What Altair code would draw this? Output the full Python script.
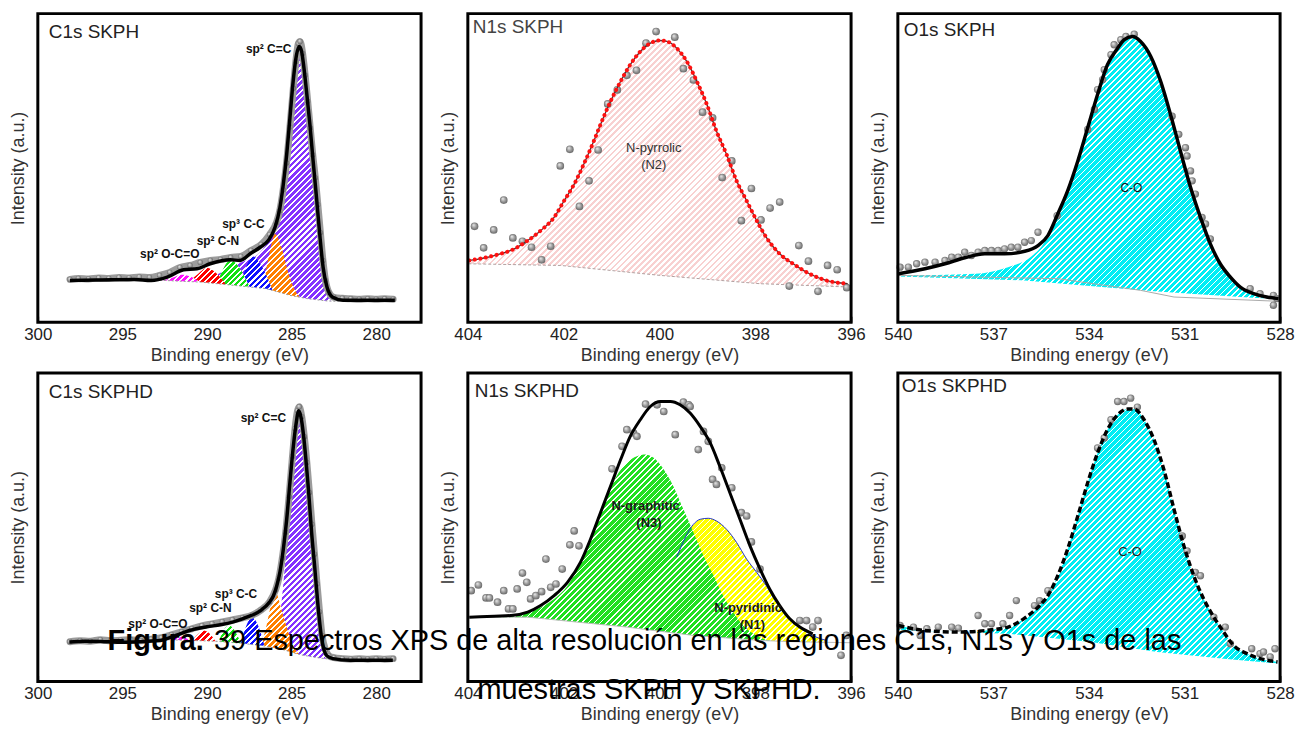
import math
import altair as alt
import pandas as pd

FONT = "Liberation Sans"
H = 310

# ---------------- axis tick values ----------------
C1S_TICKS = [300, 297.5, 295, 292.5, 290, 287.5, 285, 282.5, 280]
N1S_TICKS = [404, 403, 402, 401, 400, 399, 398, 397, 396]
O1S_TICKS = [540, 538.5, 537, 535.5, 534, 532.5, 531, 529.5, 528]

# ================= C1s SKPH =================
C1S_A_FIT_E = [298.1, 296.3, 294.3, 293.3, 292.35, 291.38, 290.59, 289.81, 288.63, 288.04, 287.45, 286.86,
               286.38, 285.98, 285.69, 285.49, 285.29, 285.10, 284.91, 284.71, 284.55, 284.41, 284.32, 284.12,
               283.92, 283.73, 283.53, 283.34, 283.14, 282.91, 282.59, 281.96, 280.6, 278.9]
C1S_A_FIT_I = [42, 42.5, 43, 42, 45.3, 52.7, 53.7, 58.7, 62.7, 62, 68.7, 75.3,
               82, 95.3, 115.3, 138.7, 168.7, 205.3, 242, 268.7, 277, 272, 262, 232,
               198.7, 162, 125.3, 88.7, 55.3, 35.3, 25.3, 22, 22, 22]
C1S_A_DATA_E = [298.1, 297.6, 297.0, 296.4, 295.8, 295.2, 294.6, 294.0, 293.4, 292.8, 292.2, 291.6, 291.0,
                290.4, 289.8, 289.2, 288.6, 288.0, 287.4, 286.8, 286.3, 285.9, 285.7, 285.5, 285.3, 285.1,
                284.9, 284.75, 284.6, 284.5, 284.35, 284.2, 284.05, 283.9, 283.75, 283.6, 283.45, 283.3,
                283.15, 283.0, 282.8, 282.5, 282.0, 281.5, 281.0, 280.5, 280.0, 279.5, 279.0]
C1S_A_DATA_I = [43, 44, 43.5, 44.5, 44, 45, 44.5, 45.5, 45, 47, 50, 55, 57,
                60, 62, 63, 65, 66, 72, 78, 88, 100, 112, 133, 160, 196,
                235, 262, 280, 282, 270, 248, 222, 195, 168, 145, 118, 90,
                62, 42, 30, 25, 24, 23.5, 23, 23.5, 23, 23.5, 23]
C1S_A_BASE_E = [298.2, 292.6, 290.4, 288.4, 286.5, 285.1, 284.1, 283.0, 282.5, 278.8]
C1S_A_BASE_I = [42, 42, 40.3, 37, 33.7, 27, 23.7, 21.5, 21, 21]
C1S_A_MAG_E = [292.6, 292.0, 291.5, 291.0, 290.4]
C1S_A_MAG_I = [42, 45, 47.7, 46, 40.3]
C1S_A_RED_E = [291.0, 290.5, 290.0, 289.5, 288.9]
C1S_A_RED_I = [41.5, 49, 54.7, 50, 38.5]
C1S_A_GRN_E = [289.4, 289.0, 288.6, 288.1, 287.5]
C1S_A_GRN_I = [39.5, 55, 62.7, 55, 36]
C1S_A_BLU_E = [288.0, 287.7, 287.26, 286.8, 286.1]
C1S_A_BLU_I = [37, 55, 66, 57, 31]
C1S_A_ORG_E = [286.7, 286.3, 285.98, 285.6, 285.2, 284.8, 284.5]
C1S_A_ORG_I = [34, 70, 88.7, 75, 50, 32, 25]
C1S_A_PUR_E = [290.5, 289.4, 288.0, 287.0, 286.4, 286.0, 285.7, 285.5, 285.3, 285.1, 284.9, 284.7,
               284.55, 284.4, 284.2, 284.0, 283.8, 283.6, 283.4, 283.2, 283.0, 282.8, 282.6]
C1S_A_PUR_I = [40.3, 48, 60, 68, 80, 92, 110, 132, 162, 198, 236, 264,
               274, 268, 243, 208, 172, 135, 98, 63, 38, 24, 20.5]
C1S_A_LBL_T = ["sp² C=C", "sp³ C-C", "sp² C-N", "sp² O-C=O"]
C1S_A_LBL_E = [286.36, 287.85, 289.36, 292.2]
C1S_A_LBL_I = [274.7, 98.7, 81.3, 68.7]

# ================= C1s SKPHD =================
C1S_B_FIT_E = [298.14, 297.2, 296.27, 295.3, 294.31, 293.5, 292.75, 291.8, 291.0, 290.0, 289.2, 288.43,
               287.65, 286.86, 286.3, 286.08, 285.88, 285.69, 285.49, 285.29, 285.1, 284.9, 284.71, 284.6,
               284.45, 284.3, 284.15, 284.0, 283.82, 283.63, 283.44, 283.24, 282.94, 282.55, 281.57,
               280.59, 279.02]
C1S_B_FIT_I = [39.7, 40.5, 40.3, 39.5, 39.7, 40.5, 41.3, 46.5, 51.5, 55, 57, 60,
               64.7, 71, 80, 86, 96, 110, 133, 163, 200, 236, 262, 272,
               266, 248, 222, 192, 150, 114, 76, 45, 26.3, 23, 21.3,
               21.3, 21.3]
C1S_B_DATA_E = [298.1, 297.5, 296.9, 296.3, 295.7, 295.1, 294.5, 293.9, 293.3, 292.7, 292.1, 291.5, 290.9,
                290.3, 289.7, 289.1, 288.5, 287.9, 287.3, 286.8, 286.3, 285.95, 285.75, 285.55, 285.35,
                285.15, 284.95, 284.8, 284.65, 284.55, 284.4, 284.25, 284.1, 283.95, 283.8, 283.65, 283.5,
                283.35, 283.2, 283.0, 282.8, 282.5, 282.0, 281.5, 281.0, 280.5, 280.0, 279.5, 279.0]
C1S_B_DATA_I = [40, 41, 40.5, 42, 41, 41.5, 42, 41, 42.5, 44, 47, 50, 53,
                56, 58, 60, 62, 64, 67, 72, 80, 92, 104, 124, 150,
                186, 226, 254, 272, 276, 266, 246, 220, 190, 158, 128, 98,
                70, 46, 32, 26, 24, 23, 22.5, 23, 22.5, 23, 22.5, 23]
C1S_B_BASE_E = [298.2, 292.2, 291.0, 289.5, 288.0, 286.7, 285.5, 284.5, 283.5, 282.75, 278.9]
C1S_B_BASE_I = [40, 42, 41.3, 40.5, 38.5, 36, 32, 27, 24, 22.5, 21.3]
C1S_B_MAG_E = [292.2, 291.9, 291.6, 291.3, 291.0]
C1S_B_MAG_I = [42, 44, 45.5, 44, 41.2]
C1S_B_RED_E = [290.9, 290.5, 290.2, 289.9, 289.5]
C1S_B_RED_I = [41.2, 48, 51.3, 49, 40.5]
C1S_B_GRN_E = [289.3, 289.0, 288.7, 288.4, 288.0]
C1S_B_GRN_I = [40.2, 52, 56.3, 52, 38.5]
C1S_B_BLU_E = [288.0, 287.7, 287.35, 287.0, 286.6]
C1S_B_BLU_I = [38.5, 55, 64.7, 57, 35.5]
C1S_B_ORG_E = [286.8, 286.5, 286.2, 285.92, 285.6, 285.3, 285.0, 284.6, 284.3]
C1S_B_ORG_I = [36, 55, 78, 88.7, 72, 55, 40, 28, 26]
C1S_B_PUR_E = [286.4, 286.1, 285.88, 285.65, 285.49, 285.29, 285.10, 284.91, 284.75, 284.62, 284.51,
               284.32, 284.12, 283.92, 283.73, 283.53, 283.34, 283.14, 282.94, 282.75]
C1S_B_PUR_I = [35, 40, 50, 71, 98, 138, 178, 221, 254, 270, 266,
               238, 198, 161, 124, 85, 51, 30, 23, 22.5]
C1S_B_LBL_T = ["sp² C=C", "sp³ C-C", "sp² C-N", "sp² O-C=O"]
C1S_B_LBL_E = [286.67, 288.29, 289.8, 292.9]
C1S_B_LBL_I = [264.7, 88, 73.7, 58]

# ================= N1s SKPH =================
N1S_A_FIT_E = [403.97, 403.45, 403.03, 402.75, 402.48, 402.20, 401.99, 401.78, 401.58, 401.37, 401.23,
               401.02, 400.81, 400.61, 400.40, 400.19, 400.00, 399.84, 399.64, 399.43, 399.22, 399.01,
               398.81, 398.60, 398.39, 398.18, 397.97, 397.77, 397.49, 397.21, 396.87, 396.52, 396.07]
N1S_A_FIT_I = [62, 67, 73.7, 82, 92, 105.3, 122, 138.7, 158.7, 182, 198.7,
               222, 242, 258.7, 272, 280.3, 283, 282, 275.3, 262, 242, 218.7,
               192, 168.7, 142, 122, 102, 85.3, 68.7, 58.7, 48.7, 42, 38.7]
N1S_A_DATA_E = [403.86, 403.67, 403.46, 403.25, 403.06, 402.86, 402.67, 402.46, 402.27, 402.07, 401.87,
                401.67, 401.47, 401.28, 401.08, 400.88, 400.68, 400.48, 400.28, 400.07, 399.68, 399.50,
                399.29, 399.10, 398.89, 398.69, 398.49, 398.29, 398.08, 397.88, 397.69, 397.49, 397.29,
                397.09, 396.89, 396.69, 396.49, 396.29, 396.09]
N1S_A_DATA_I = [96.3, 74.7, 92.7, 122.7, 84.7, 81.3, 75.3, 62.7, 76.3, 157, 173.7,
                116.3, 142, 173, 219.3, 233.3, 248, 253, 280.3, 292, 286.3, 254.7,
                243.3, 211, 205.3, 145.3, 162, 102, 134.3, 102.7, 114.7, 120.7, 36.3,
                77, 61.3, 31, 57, 52.7, 34.7]
N1S_A_BASE_E = [403.99, 402.06, 399.98, 397.91, 396.01]
N1S_A_BASE_I = [58.7, 57, 47, 38.7, 35.3]
N1S_A_LBL_T = ["N-pyrrolic", "(N2)"]
N1S_A_LBL_E = [400.12, 400.12]
N1S_A_LBL_I = [174.7, 157.7]

# ================= N1s SKPHD =================
N1S_B_FIT_E = [403.97, 403.45, 403.10, 402.75, 402.48, 402.20, 401.92, 401.65, 401.44, 401.23, 401.02,
               400.81, 400.61, 400.40, 400.19, 399.98, 399.77, 399.57, 399.36, 399.15, 398.94, 398.74,
               398.53, 398.32, 398.11, 397.90, 397.70, 397.49, 397.28, 397.07, 396.80]
N1S_B_FIT_I = [64.7, 65.7, 66.3, 69.7, 76.3, 86.3, 99.7, 119.7, 143, 169.7, 196.3,
               223, 246.3, 263, 276.3, 281.3, 281.3, 278, 269.7, 256.3, 239.7, 216.3,
               189.7, 163, 136.3, 113, 93, 76.3, 63, 54.7, 48]
N1S_B_DATA_E = [403.93, 403.78, 403.62, 403.55, 403.38, 403.25, 403.15, 403.06, 402.97, 402.86, 402.77,
                402.69, 402.58, 402.46, 402.37, 402.27, 402.16, 402.03, 401.87, 401.78, 401.68, 400.99,
                400.78, 400.68, 400.54, 400.47, 400.29, 400.05, 399.91, 399.67, 399.50, 399.39, 399.36,
                399.19, 399.08, 398.98, 398.89, 398.81, 398.70, 398.49, 398.29, 398.18, 398.08, 397.90,
                397.07, 396.93, 396.80, 396.69, 396.21, 396.10]
N1S_B_DATA_I = [91.3, 97, 84, 84, 79.7, 91.3, 73, 73, 93, 109, 99.7,
                83, 86.3, 90.3, 123, 94.7, 98, 113, 137.3, 151.3, 136.3, 213.7,
                236.3, 253, 249.7, 246.3, 278.7, 278, 271.3, 248, 280.7, 278, 276.3,
                233, 251.3, 241.3, 203, 198, 214.7, 194.7, 169.7, 166.3, 140.3, 113,
                61.3, 61.3, 54.7, 61.3, 26.3, 46.3]
N1S_B_BASE_E = [403.99, 402.75, 400.68, 399.29, 397.90, 397.2, 396.01]
N1S_B_BASE_I = [64.7, 64.7, 54.7, 46.3, 41.3, 40, 39]
N1S_B_GRN_E = [403.93, 403.10, 402.55, 402.20, 401.92, 401.65, 401.37, 401.16, 400.95, 400.68, 400.47,
               400.29, 400.12, 399.91, 399.71, 399.50, 399.29, 399.08, 398.87, 398.67, 398.46, 398.25,
               398.04, 397.84, 397.49]
N1S_B_GRN_I = [63.7, 65.7, 73, 83, 96.3, 119.7, 151.3, 176.3, 201.3, 219.7, 226.3,
               228, 224.7, 213, 196.3, 173, 149.7, 126.3, 106.3, 86.3, 69.7, 56.3,
               48, 43, 39.7]
N1S_B_YEL_E = [400.4, 399.98, 399.64, 399.29, 399.15, 398.98, 398.81, 398.60, 398.39, 398.18, 397.97,
               397.77, 397.56, 397.35, 397.14, 396.93, 396.73, 396.52]
N1S_B_YEL_I = [55, 85, 125, 158, 163, 164, 161.3, 153, 139.7, 123, 109.7,
               96.3, 79.7, 66.3, 56.3, 49.7, 44.7, 41.3]
N1S_B_LBL_T = ["N-graphitic", "(N3)", "N-pyridinic", "(N1)"]
N1S_B_LBL_E = [400.29, 400.22, 398.15, 398.06]
N1S_B_LBL_I = [176.3, 159.7, 73.7, 56.3]

# ================= O1s SKPH =================
O1S_A_FIT_E = [539.98, 539.15, 538.52, 537.90, 537.27, 536.65, 536.02, 535.60, 535.29, 534.98, 534.67,
               534.35, 534.04, 533.73, 533.42, 533.10, 532.90, 532.64, 532.38, 532.06, 531.75, 531.44,
               531.13, 530.81, 530.50, 530.19, 529.88, 529.56, 529.25, 528.83, 528.42, 528.05]
O1S_A_FIT_I = [48.7, 53.7, 58.7, 64.7, 68.7, 68.7, 71.3, 77, 87, 108.7, 132,
               162, 195.3, 228.7, 258.7, 275.3, 283.7, 287, 282, 267, 242, 208.7,
               172, 135.3, 105.3, 78.7, 58.7, 45.3, 35.3, 28.7, 25.3, 23.7]
O1S_A_CO_E = [539.98, 537.58, 536.54, 535.81, 535.40, 535.29, 534.98, 534.67, 534.35, 534.04, 533.73,
              533.42, 533.10, 532.90, 532.64, 532.38, 532.06, 531.75, 531.44, 531.13, 530.81, 530.50,
              530.19, 529.88, 529.56, 529.25, 528.83, 528.42, 528.05]
O1S_A_CO_I = [47, 48.7, 55.3, 66, 80.3, 87, 108.7, 132, 162, 195.3, 228.7,
              258.7, 275.3, 283.7, 287, 282, 267, 242, 208.7, 172, 135.3, 105.3,
              78.7, 58.7, 45.3, 35.3, 28.7, 25.3, 23.7]
O1S_A_DATA_E = [539.93, 539.67, 539.41, 539.15, 538.83, 538.52, 538.31, 538.10, 537.90, 537.69, 537.48,
                537.27, 537.06, 536.85, 536.65, 536.44, 536.23, 536.02, 535.81, 535.60, 535.0, 534.04,
                533.83, 533.73, 533.57, 533.52, 533.31, 533.21, 533.0, 532.84, 532.58, 531.39, 531.18,
                530.97, 530.92, 530.81, 530.76, 530.66, 530.45, 530.34, 530.19, 528.94, 528.63, 528.21,
                528.21, 528.10]
O1S_A_DATA_I = [55.3, 55.3, 58.7, 60.3, 60.3, 62, 65.3, 65.3, 70.3, 67, 70.3,
                72, 72, 72, 73.7, 75.3, 75.3, 80.3, 82, 90.3, 107, 193.7,
                213.7, 233.7, 243.7, 253.7, 268.7, 278.7, 283.7, 287, 289.3, 207, 188.7,
                175.3, 167, 152, 142, 128.7, 105.3, 98.7, 83.7, 33.7, 28.7, 27,
                17, 23.7]
O1S_A_MASK_E = [540.0, 536.02, 532.38, 530.81, 528.73, 528.0]
O1S_A_MASK_I = [46, 42, 32, 28.7, 24.3, 23]
O1S_A_BASE_E = [539.98, 534.98, 532.38, 531.33, 528.05]
O1S_A_BASE_I = [47, 43.7, 32, 25.3, 21]
O1S_A_LBL_T = ["C-O"]
O1S_A_LBL_E = [532.67]
O1S_A_LBL_I = [134.3]

# ================= O1s SKPHD =================
O1S_B_FIT_E = [539.98, 539.15, 538.10, 537.06, 536.54, 536.02, 535.60, 535.29, 534.98, 534.67, 534.35,
               534.04, 533.73, 533.42, 533.10, 532.79, 532.58, 532.27, 531.96, 531.65, 531.33, 531.02,
               530.71, 530.40, 530.08, 529.77, 529.46, 529.04, 528.63, 528.08]
O1S_B_FIT_I = [56.3, 51.3, 49.7, 52, 54.7, 63.7, 74.7, 86.3, 106.3, 133, 166.3,
               199.7, 229.7, 253, 268, 273.7, 273.7, 263, 243, 213, 173, 136.3,
               106.3, 83, 64.7, 49.7, 36.3, 28, 23, 19.7]
O1S_B_DATA_E = [539.93, 539.51, 539.30, 539.09, 538.73, 538.31, 538.10, 537.48, 537.27, 537.06, 536.70,
                536.49, 536.28, 535.71, 535.55, 535.29, 533.73, 533.52, 533.31, 533.10, 532.90, 532.69,
                532.48, 531.07, 530.92, 530.66, 530.50, 530.08, 529.72, 529.56, 528.89, 528.63, 528.52,
                528.31, 528.16]
O1S_B_DATA_I = [56.3, 54.7, 46.3, 53, 54.7, 54.7, 53.7, 66.3, 58, 58, 58,
                66.3, 81.3, 76.3, 81.3, 91.3, 234.7, 244.7, 263, 281.3, 281.3, 284.7,
                275.7, 146.3, 131.3, 109.7, 106.3, 64.7, 54.7, 38, 33, 28, 29.7,
                24.7, 33]
O1S_B_BASE_E = [540.0, 536.54, 533.94, 531.85, 529.77, 528.0]
O1S_B_BASE_I = [51.7, 48, 39.7, 29.7, 23, 18]
O1S_B_LBL_T = ["C-O"]
O1S_B_LBL_E = [532.71]
O1S_B_LBL_I = [129.7]

# ================= caption =================
CAPTION_BOLD = "Figura."
CAPTION_1 = "39 Espectros XPS de alta resolución en las regiones C1s, N1s y O1s de las"
CAPTION_2 = "muestras SKPH y SKPHD."

# ---------------------------------------------------------------
W1, W2, W3 = 385, 385, 384
PPE_C, PPE_N, PPE_O = W1 / 22.65, W2 / 8.0, W3 / 12.0   # pixels per eV in each panel

SPHERE = alt.RadialGradient(
    gradient="radial",
    stops=[alt.GradientStop(color="#f2f2f2", offset=0),
           alt.GradientStop(color="#a3a3a3", offset=0.5),
           alt.GradientStop(color="#5e5e5e", offset=1)],
    x1=0.35, y1=0.3, r1=0, x2=0.5, y2=0.5, r2=0.55)


def hatch(color, e, i, ppe, frac, period=4.3):
    """Diagonal (////) hatch fill built as a striped linear gradient over the mark's box."""
    w = max((max(e) - min(e)) * ppe, 1.0)
    h = max(max(i), 1.0)
    n = max(1, int(round((w + h) / (period * math.sqrt(2)))))
    stops = []
    for k in range(n):
        a, b, c = k / n, (k + frac) / n, (k + 1) / n
        stops += [alt.GradientStop(color=color, offset=round(a, 6)),
                  alt.GradientStop(color=color, offset=round(b, 6)),
                  alt.GradientStop(color="#ffffff", offset=round(b, 6)),
                  alt.GradientStop(color="#ffffff", offset=round(c, 6))]
    s = w * (w + h) / (w * w + h * h)
    return alt.LinearGradient(gradient="linear", stops=stops, x1=0, y1=0, x2=s, y2=s * h / w)


YENC = alt.Y("I:Q", scale=alt.Scale(domain=[0, H], nice=False, zero=False),
             axis=alt.Axis(title="Intensity (a.u.)", labels=False, ticks=False, domain=False, grid=False,
                           titlePadding=10, titleFontSize=18, titleColor="#333333",
                           titleFontWeight="normal", titleFont=FONT))


def xenc(dom, vals, mod):
    return alt.X("E:Q", scale=alt.Scale(domain=dom, reverse=True, nice=False, zero=False),
                 axis=alt.Axis(values=vals, labelExpr=f"datum.value % {mod} == 0 ? datum.label : ''",
                               title="Binding energy (eV)", grid=False, domain=False,
                               tickSize=6, tickWidth=1.6, tickColor="black", offset=-6,
                               labelFontSize=17, labelColor="#222222", labelPadding=4, labelFlush=False,
                               labelFont=FONT, titleFont=FONT, titleFontSize=18, titleColor="#333333",
                               titleFontWeight="normal", titlePadding=4))


def frame_df(e, i):
    return pd.DataFrame({"E": e, "I": i})


def area(X, e, i, color, op=1.0, interp="monotone"):
    return alt.Chart(frame_df(e, i)).mark_area(color=color, opacity=op, interpolate=interp).encode(x=X, y=YENC)


def line(X, e, i, color, width, interp="monotone", dash=None, cap="butt"):
    kw = dict(color=color, strokeWidth=width, interpolate=interp, strokeCap=cap)
    if dash:
        kw["strokeDash"] = dash
    return alt.Chart(frame_df(e, i)).mark_line(**kw).encode(x=X, y=YENC)


def points(X, e, i, size):
    return alt.Chart(frame_df(e, i)).mark_circle(fill=SPHERE, size=size, opacity=1).encode(x=X, y=YENC)


def labels(X, t, e, i, size, weight="bold", color="#111111"):
    d = pd.DataFrame({"E": e, "I": i, "T": t})
    return alt.Chart(d).mark_text(fontSize=size, fontWeight=weight, font=FONT, color=color).encode(
        x=X, y=YENC, text="T:N")


def ptitle(text, dx, dy, color="#222222"):
    return alt.Chart(alt.Data(values=[{}])).mark_text(
        text=text, align="left", baseline="middle", fontSize=19, font=FONT, color=color).encode(
        x=alt.value(dx), y=alt.value(dy))


def frame(w):
    return alt.Chart(alt.Data(values=[{}])).mark_rect(filled=False, color="black", strokeWidth=3).encode(
        x=alt.value(0), x2=alt.value(w), y=alt.value(0), y2=alt.value(H))


XC = xenc([277.35, 300], C1S_TICKS, 5)
XN = xenc([396, 404], N1S_TICKS, 2)
XO = xenc([528, 540], O1S_TICKS, 3)

PURPLE, ORANGE, BLUE, GREEN, RED, MAGENTA = "#8433ff", "#ff8000", "#1010ff", "#10e010", "#ff0000", "#ff10ff"
CYAN, YELLOW, NGREEN, PINK = "#00eef4", "#ffff00", "#22e022", "#f5bdbd"


def c1s_panel(fe, fi, de, di, be, bi, comps, lt, le, li, title, tdx, tdy):
    layers = [area(XC, e, i, hatch(c, e, i, PPE_C, 0.6)) for (e, i, c) in comps]
    layers += [
        area(XC, be, bi, "white", 1, "linear"),
        line(XC, be, bi, "#999999", 1, "linear", dash=[2, 2]),
        line(XC, de, di, "#9c9c9c", 7, cap="round"),
        points(XC, de, di, 30),
        line(XC, fe, fi, "black", 3.5),
        labels(XC, lt, le, li, 12),
        ptitle(title, tdx, tdy),
        frame(W1),
    ]
    return alt.layer(*layers).properties(width=W1, height=H)


p1 = c1s_panel(C1S_A_FIT_E, C1S_A_FIT_I, C1S_A_DATA_E, C1S_A_DATA_I, C1S_A_BASE_E, C1S_A_BASE_I,
               [(C1S_A_PUR_E, C1S_A_PUR_I, PURPLE), (C1S_A_ORG_E, C1S_A_ORG_I, ORANGE),
                (C1S_A_BLU_E, C1S_A_BLU_I, BLUE), (C1S_A_GRN_E, C1S_A_GRN_I, GREEN),
                (C1S_A_RED_E, C1S_A_RED_I, RED), (C1S_A_MAG_E, C1S_A_MAG_I, MAGENTA)],
               C1S_A_LBL_T, C1S_A_LBL_E, C1S_A_LBL_I, "C1s SKPH", 11, 18)

p4 = c1s_panel(C1S_B_FIT_E, C1S_B_FIT_I, C1S_B_DATA_E, C1S_B_DATA_I, C1S_B_BASE_E, C1S_B_BASE_I,
               [(C1S_B_PUR_E, C1S_B_PUR_I, PURPLE), (C1S_B_ORG_E, C1S_B_ORG_I, ORANGE),
                (C1S_B_BLU_E, C1S_B_BLU_I, BLUE), (C1S_B_GRN_E, C1S_B_GRN_I, GREEN),
                (C1S_B_RED_E, C1S_B_RED_I, RED), (C1S_B_MAG_E, C1S_B_MAG_I, MAGENTA)],
               C1S_B_LBL_T, C1S_B_LBL_E, C1S_B_LBL_I, "C1s SKPHD", 11, 19)

p2 = alt.layer(
    area(XN, N1S_A_FIT_E, N1S_A_FIT_I, hatch(PINK, N1S_A_FIT_E, N1S_A_FIT_I, PPE_N, 0.45), 0.7),
    area(XN, N1S_A_BASE_E, N1S_A_BASE_I, "white", 1, "linear"),
    line(XN, N1S_A_BASE_E, N1S_A_BASE_I, "#b0a0a0", 1, "linear", dash=[3, 2]),
    points(XN, N1S_A_DATA_E, N1S_A_DATA_I, 60),
    line(XN, N1S_A_FIT_E, N1S_A_FIT_I, "#5a2a2a", 1.3),
    line(XN, N1S_A_FIT_E, N1S_A_FIT_I, "#ff1010", 4, dash=[0.1, 5.5], cap="round"),
    labels(XN, N1S_A_LBL_T, N1S_A_LBL_E, N1S_A_LBL_I, 13, "normal", "#333333"),
    ptitle("N1s SKPH", 5, 13, "#444444"),
    frame(W2),
).properties(width=W2, height=H)

p5 = alt.layer(
    area(XN, N1S_B_YEL_E, N1S_B_YEL_I, hatch(YELLOW, N1S_B_YEL_E, N1S_B_YEL_I, PPE_N, 0.72)),
    area(XN, N1S_B_GRN_E, N1S_B_GRN_I, hatch(NGREEN, N1S_B_GRN_E, N1S_B_GRN_I, PPE_N, 0.72)),
    area(XN, N1S_B_BASE_E, N1S_B_BASE_I, "white", 1, "linear"),
    line(XN, N1S_B_YEL_E[2:], N1S_B_YEL_I[2:], "#2233cc", 1),
    line(XN, N1S_B_BASE_E, N1S_B_BASE_I, "#bbbbbb", 1, "linear"),
    points(XN, N1S_B_DATA_E, N1S_B_DATA_I, 60),
    line(XN, N1S_B_FIT_E, N1S_B_FIT_I, "black", 3),
    labels(XN, N1S_B_LBL_T, N1S_B_LBL_E, N1S_B_LBL_I, 13, "bold", "#1a1a1a"),
    ptitle("N1s SKPHD", 7, 18),
    frame(W2),
).properties(width=W2, height=H)

p3 = alt.layer(
    area(XO, O1S_A_CO_E, O1S_A_CO_I, hatch(CYAN, O1S_A_CO_E, O1S_A_CO_I, PPE_O, 0.72)),
    area(XO, O1S_A_MASK_E, O1S_A_MASK_I, "white", 1, "linear"),
    line(XO, O1S_A_BASE_E, O1S_A_BASE_I, "#aaaaaa", 1, "linear"),
    points(XO, O1S_A_DATA_E, O1S_A_DATA_I, 55),
    line(XO, O1S_A_FIT_E, O1S_A_FIT_I, "black", 3.5),
    labels(XO, O1S_A_LBL_T, O1S_A_LBL_E, O1S_A_LBL_I, 12, "normal", "#111111"),
    ptitle("O1s SKPH", 6, 16),
    frame(W3),
).properties(width=W3, height=H)

p6 = alt.layer(
    area(XO, O1S_B_FIT_E, O1S_B_FIT_I, hatch(CYAN, O1S_B_FIT_E, O1S_B_FIT_I, PPE_O, 0.72)),
    area(XO, O1S_B_BASE_E, O1S_B_BASE_I, "white", 1, "linear"),
    points(XO, O1S_B_DATA_E, O1S_B_DATA_I, 55),
    line(XO, O1S_B_FIT_E, O1S_B_FIT_I, "black", 3.5, dash=[6, 3]),
    labels(XO, O1S_B_LBL_T, O1S_B_LBL_E, O1S_B_LBL_I, 13, "normal", "#222222"),
    ptitle("O1s SKPHD", 4, 13),
    frame(W3),
    alt.Chart(alt.Data(values=[{}])).mark_text(
        text=CAPTION_BOLD, align="left", baseline="alphabetic", fontSize=29, fontWeight="bold",
        font=FONT, color="black").encode(x=alt.value(-794), y=alt.value(278)),
    alt.Chart(alt.Data(values=[{}])).mark_text(
        text=CAPTION_1, align="left", baseline="alphabetic", fontSize=29,
        font=FONT, color="black").encode(x=alt.value(-687), y=alt.value(278)),
    alt.Chart(alt.Data(values=[{}])).mark_text(
        text=CAPTION_2, align="center", baseline="alphabetic", fontSize=29,
        font=FONT, color="black").encode(x=alt.value(-250), y=alt.value(328)),
).properties(width=W3, height=H)

chart = alt.concat(p1, p2, p3, p4, p5, p6, columns=3, spacing={"row": 51, "column": 47},
                   bounds="flush").properties(
    padding={"left": 9, "top": 10, "right": 5, "bottom": 5},
    background="white",
).configure_view(stroke=None).configure(font=FONT)

chart.save("out.html", embed_options={"renderer": "svg", "actions": False})
